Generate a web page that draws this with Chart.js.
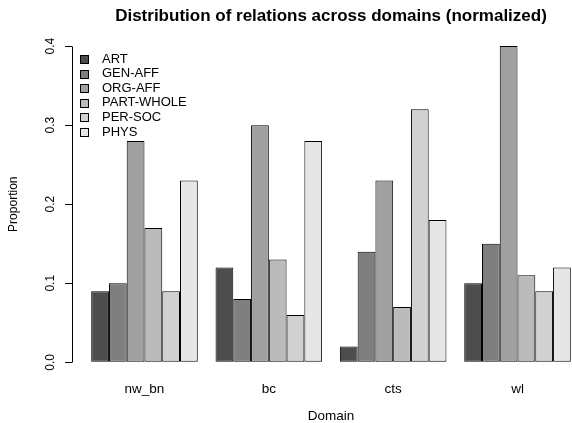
<!DOCTYPE html>
<html>
<head>
<meta charset="utf-8">
<script src="https://cdn.jsdelivr.net/npm/chart.js@4.4.0/dist/chart.umd.min.js"></script>
<style>
    html, body { margin: 0; padding: 0; background: #fff; overflow: hidden; }
    #wrap { width: 590px; height: 423px; }
</style>
</head>
<body>
<div id="wrap"><canvas id="chart" width="590" height="423"></canvas></div>
<script>
// Chart data
const domains = ['nw_bn', 'bc', 'cts', 'wl'];
const relations = ['ART', 'GEN-AFF', 'ORG-AFF', 'PART-WHOLE', 'PER-SOC', 'PHYS'];
const artValues = [0.09, 0.12, 0.02, 0.10];
const genAffValues = [0.10, 0.08, 0.14, 0.15];
const orgAffValues = [0.28, 0.30, 0.23, 0.40];
const partWholeValues = [0.17, 0.13, 0.07, 0.11];
const perSocValues = [0.09, 0.06, 0.32, 0.09];
const physValues = [0.23, 0.28, 0.18, 0.12];
const yTicks = [0, 0.1, 0.2, 0.3, 0.4];

// barplot(beside = TRUE) puts group centres at 4, 11, 18, 25 (6 bars + 1 gap)
const groupCenters = [4, 11, 18, 25];
const seriesValues = [artValues, genAffValues, orgAffValues, partWholeValues, perSocValues, physValues];
const grays = ['#4D4D4D', '#7F7F7F', '#A0A0A0', '#BBBBBB', '#D1D1D1', '#E6E6E6'];

const FONT = "'Liberation Sans', Arial, Helvetica, sans-serif";

// R style y axis line (only spans the tick range) and legend in the top left
const rAxisAndLegend = {
    id: 'rAxisAndLegend',
    afterDraw(chart) {
        const ctx = chart.ctx;
        const y = chart.scales.y;
        const x = Math.round(y.right) + 0.5;
        ctx.save();
        ctx.strokeStyle = '#000';
        ctx.lineWidth = 1;
        ctx.beginPath();
        ctx.moveTo(x, Math.round(y.getPixelForValue(yTicks[0])) + 0.5);
        ctx.lineTo(x, Math.round(y.getPixelForValue(yTicks[yTicks.length - 1])) + 0.5);
        ctx.stroke();

        ctx.font = '13px ' + FONT;
        ctx.textBaseline = 'middle';
        ctx.textAlign = 'left';
        chart.data.datasets.forEach((ds, i) => {
            const cy = 59 + i * 14.6;
            ctx.fillStyle = ds.backgroundColor;
            ctx.fillRect(80.5, Math.round(cy - 4) + 0.5, 8, 8);
            ctx.strokeRect(80.5, Math.round(cy - 4) + 0.5, 8, 8);
            ctx.fillStyle = '#000';
            ctx.fillText(ds.label, 102, cy);
        });
        ctx.restore();
    }
};

new Chart(document.getElementById('chart'), {
    type: 'bar',
    data: {
        datasets: relations.map((name, i) => ({
            label: name,
            data: seriesValues[i].map((v, j) => ({ x: groupCenters[j], y: v })),
            backgroundColor: grays[i],
            borderColor: '#000',
            borderWidth: 1,
            borderSkipped: false,
            categoryPercentage: 6 / 7,
            barPercentage: 1
        }))
    },
    options: {
        responsive: false,
        animation: false,
        devicePixelRatio: 1,
        layout: { padding: 0 },
        plugins: {
            legend: { display: false },
            tooltip: { enabled: false },
            title: {
                display: true,
                fullSize: false,
                text: 'Distribution of relations across domains (normalized)',
                color: '#000',
                font: { family: FONT, size: 17, weight: 'bold' },
                padding: { top: 6, bottom: 7 }
            }
        },
        scales: {
            x: {
                type: 'linear',
                offset: false,
                min: -0.08,
                max: 29.08,
                afterBuildTicks: (scale) => {
                    scale.ticks = groupCenters.map(v => ({ value: v }));
                },
                afterFit: (scale) => { scale.height = 48; },
                grid: { display: false, drawTicks: false },
                border: { display: false },
                ticks: {
                    color: '#000',
                    font: { family: FONT, size: 13.5 },
                    padding: 6,
                    autoSkip: false,
                    maxRotation: 0,
                    callback: (value) => domains[groupCenters.indexOf(value)]
                },
                title: {
                    display: true,
                    text: 'Domain',
                    color: '#000',
                    font: { family: FONT, size: 13.5, lineHeight: 1 },
                    padding: 0
                }
            },
            y: {
                min: -0.016,
                max: 0.416,
                afterBuildTicks: (scale) => {
                    scale.ticks = yTicks.map(v => ({ value: v }));
                },
                afterFit: (scale) => { scale.width = 72; },
                grid: {
                    drawOnChartArea: false,
                    drawTicks: true,
                    tickLength: 7,
                    tickColor: '#000',
                    tickWidth: 1
                },
                border: { display: false },
                ticks: {
                    color: '#000',
                    font: { family: FONT, size: 12 },
                    minRotation: 90,
                    maxRotation: 90,
                    crossAlign: 'center',
                    padding: 6,
                    callback: (value) => value.toFixed(1)
                },
                title: {
                    display: true,
                    text: 'Proportion',
                    color: '#000',
                    font: { family: FONT, size: 12, lineHeight: 1 },
                    padding: { top: 8, bottom: 0 }
                }
            }
        }
    },
    plugins: [rAxisAndLegend]
});
</script>
</body>
</html>
